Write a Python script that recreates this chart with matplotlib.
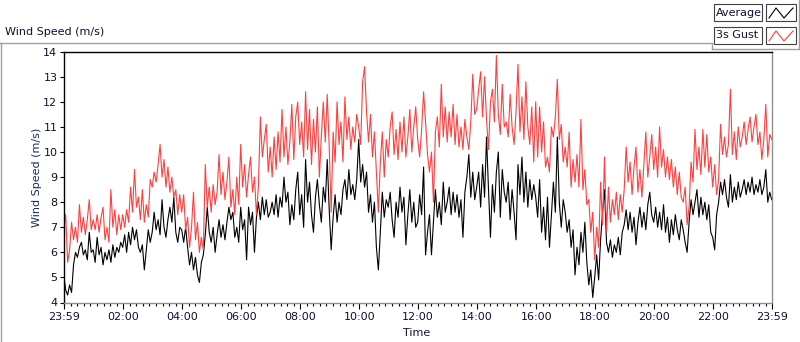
import numpy as np
import matplotlib.pyplot as plt
from matplotlib.lines import Line2D
from matplotlib.patches import Rectangle

# one sample every 4 minutes, 23:59 -> 23:59
minutes = np.arange(0, 1441, 4)

average = [
    5.1, 4.5, 4.3, 4.7, 4.4, 5.5, 6.0, 5.8, 6.2, 6.4, 5.9, 6.1, 5.7, 6.8, 6.0,
    6.1, 5.6, 6.6, 5.9, 6.2, 5.5, 6.0, 5.7, 6.1, 5.6, 6.3, 5.8, 6.2, 6.0, 6.4,
    6.2, 6.7, 6.0, 6.8, 6.3, 7.0, 6.5, 6.9, 6.2, 6.0, 6.3, 5.3, 6.1, 6.9, 6.4,
    6.8, 7.6, 6.9, 7.3, 6.7, 8.1, 7.0, 6.6, 7.3, 7.8, 7.2, 8.2, 6.8, 6.4, 7.0,
    6.9, 6.4, 7.0, 6.2, 5.5, 6.0, 5.3, 5.8, 5.1, 4.8, 5.6, 5.9, 6.7, 7.8, 6.8,
    6.4, 7.0, 6.0, 6.7, 7.3, 6.6, 7.1, 6.5, 7.2, 7.8, 7.3, 7.6, 6.6, 7.0, 6.4,
    7.8, 6.9, 7.3, 5.7, 7.8, 7.1, 7.6, 6.0, 7.4, 8.0, 7.3, 8.2, 7.5, 8.1, 7.4,
    7.6, 8.0, 7.5, 8.3, 7.4, 8.2, 7.8, 9.0, 8.0, 8.4, 7.1, 7.9, 7.3, 8.5, 9.2,
    7.5, 8.3, 7.0, 9.7, 8.0, 8.8, 7.5, 6.8, 8.2, 8.9, 7.9, 7.2, 8.6, 8.0, 9.7,
    7.7, 6.1, 7.4, 8.3, 7.2, 8.0, 7.5, 8.5, 8.9, 8.1, 9.3, 8.3, 8.7, 8.1, 8.9,
    10.5, 8.8, 9.5, 8.6, 9.2, 7.6, 8.3, 7.2, 8.0, 6.2, 5.3, 6.8, 8.4, 7.4, 8.1,
    7.8, 8.4, 7.3, 6.6, 8.0, 7.4, 8.6, 7.6, 8.2, 6.3, 7.5, 8.5, 7.2, 8.0, 7.0,
    7.2, 8.3, 7.5, 9.4, 5.9, 6.8, 7.5, 5.9, 7.2, 8.5, 7.4, 8.0, 7.1, 8.8, 7.6,
    8.0, 8.6, 7.5, 8.4, 7.6, 8.3, 7.4, 8.1, 6.6, 8.4, 9.0, 9.9, 8.2, 9.2, 8.1,
    8.6, 9.2, 7.8, 9.5, 8.2, 10.6, 8.5, 6.6, 8.7, 7.6, 9.2, 10.0, 7.4, 9.3, 8.4,
    8.0, 8.8, 7.3, 8.5, 7.6, 6.5, 9.5, 8.3, 9.8, 8.0, 9.2, 7.8, 8.9, 8.1, 8.7,
    8.2, 7.4, 8.9, 6.8, 7.8, 6.5, 8.2, 6.2, 7.5, 8.8, 7.6, 10.6, 8.0, 7.0, 8.1,
    7.6, 6.8, 7.3, 6.2, 6.9, 5.1, 6.2, 5.5, 6.8, 6.0, 7.2, 5.6, 4.7, 5.3, 4.2,
    5.0, 5.9, 4.9, 6.5, 7.6, 8.5, 6.4, 6.0, 6.5, 5.8, 6.3, 6.0, 6.6, 5.9, 6.8,
    7.1, 7.7, 6.9, 7.6, 6.8, 7.4, 6.3, 7.2, 7.8, 7.0, 7.6, 6.9, 7.9, 8.4, 7.5,
    7.2, 7.8, 7.0, 7.6, 6.9, 7.9, 6.8, 7.4, 6.4, 7.3, 6.7, 7.5, 6.9, 6.5, 7.3,
    6.9, 6.4, 6.0, 7.2, 8.1, 7.5, 8.0, 8.5, 7.4, 8.2, 7.5, 8.0, 7.3, 7.9, 6.8,
    6.6, 6.1, 7.5, 8.0, 8.8, 8.3, 8.9, 8.2, 7.8, 9.1, 8.0, 8.6, 8.1, 8.8, 8.2,
    8.5, 8.9, 8.3, 8.8, 8.4, 9.0, 8.3, 8.7, 8.4, 8.9, 8.3, 8.6, 9.3, 8.0, 8.4, 8.1,
]

gust = [
    6.9, 7.5, 5.6, 6.1, 7.2, 6.5, 7.0, 6.4, 7.9, 6.8, 7.4, 6.7, 7.3, 8.1, 6.9,
    7.3, 6.9, 7.5, 6.8, 7.4, 7.8, 6.5, 7.0, 6.4, 8.5, 7.0, 7.7, 6.7, 7.5, 6.9,
    7.5, 7.0, 7.7, 7.2, 8.6, 7.6, 9.3, 7.8, 8.2, 7.3, 8.5, 7.2, 7.9, 7.4, 8.9,
    8.6, 9.2, 8.8, 9.5, 10.3, 9.0, 9.7, 8.6, 9.4, 8.4, 9.0, 8.2, 8.5, 7.5, 8.3,
    7.6, 8.3, 6.9, 7.4, 6.2, 7.0, 8.4, 6.5, 7.2, 6.0, 6.6, 6.1, 9.5, 7.8, 8.6,
    7.6, 8.7, 7.9, 8.4, 9.9, 8.3, 9.2, 8.1, 8.8, 9.8, 7.8, 8.5, 7.5, 9.0, 7.9,
    10.3, 8.6, 9.5, 8.2, 9.1, 9.8, 8.4, 9.0, 7.5, 8.6, 11.4, 9.8, 10.5, 11.1, 9.2,
    10.2, 9.0, 10.6, 9.3, 10.8, 9.6, 11.7, 9.8, 11.0, 9.5, 10.4, 11.9, 9.7, 11.4, 12.0,
    10.3, 11.2, 9.8, 12.4, 10.1, 11.7, 9.5, 11.3, 10.0, 11.8, 9.0, 10.6, 12.0, 10.4, 12.3,
    10.2, 7.6, 10.8, 9.6, 12.0, 10.3, 11.2, 9.6, 12.2, 10.5, 11.4, 10.1, 11.0, 10.4, 11.5,
    11.0, 10.3, 12.8, 13.4, 11.6, 10.4, 11.5, 9.8, 10.8, 9.2, 7.6, 9.6, 10.8, 9.0, 10.5,
    9.8, 11.0, 11.6, 9.9, 10.9, 9.7, 11.2, 10.0, 11.4, 9.8, 10.6, 11.7, 10.0, 11.0, 11.8,
    10.5, 9.8, 10.9, 12.4, 11.2, 9.9, 9.2, 10.0, 8.0, 10.8, 11.4, 10.2, 12.7, 10.6, 11.8,
    10.4, 11.6, 10.6, 11.9, 10.3, 11.5, 10.2, 11.0, 10.1, 11.3, 10.6, 10.1, 11.2, 13.1, 11.5,
    11.7, 12.5, 13.2, 11.4, 13.0, 11.3, 10.1, 12.0, 12.5, 11.2, 13.85, 11.5, 10.7, 12.7, 11.0,
    11.2, 10.6, 12.3, 11.0, 10.3, 11.6, 13.5, 10.8, 12.2, 10.5, 12.8, 11.0, 10.3, 11.8, 9.6,
    12.0, 9.8, 11.8, 10.0, 11.2, 9.4, 9.8, 9.2, 11.0, 10.6, 11.4, 12.9, 10.5, 11.1, 9.6,
    10.2, 9.4, 10.8, 8.6, 9.7, 8.8, 9.9, 8.6, 11.3, 8.5, 9.3, 7.9, 8.1, 6.8, 7.6,
    5.7, 7.0, 6.2, 8.8, 7.1, 9.8, 6.8, 8.6, 7.2, 8.1, 7.5, 8.4, 7.3, 8.3, 7.6,
    8.5, 10.2, 8.8, 9.6, 8.3, 9.4, 10.2, 8.4, 9.3, 8.2, 9.5, 10.8, 9.0, 9.8, 10.7,
    9.3, 10.2, 9.0, 11.0, 9.4, 10.1, 9.0, 9.8, 8.9, 9.7, 8.6, 9.4, 8.3, 9.2, 8.2,
    8.0, 8.6, 7.1, 7.8, 9.6, 8.8, 10.9, 9.3, 10.2, 9.1, 10.9, 9.4, 10.7, 9.2, 9.8,
    8.6, 9.5, 8.3, 8.9, 11.1, 9.9, 10.6, 9.8, 10.3, 12.5, 9.9, 10.8, 9.7, 11.0, 10.2,
    10.6, 11.2, 10.3, 10.9, 11.4, 10.4, 11.0, 11.5, 10.3, 10.8, 9.7, 10.5, 11.9, 9.8, 10.7, 10.5,
]

tick_minutes = [0, 121, 241, 361, 481, 601, 721, 841, 961, 1081, 1201, 1321, 1440]
tick_labels = ['23:59', '02:00', '04:00', '06:00', '08:00', '10:00', '12:00',
               '14:00', '16:00', '18:00', '20:00', '22:00', '23:59']
y_ticks = list(range(4, 15))

W, H = 800, 342
GRAY = '#a0a0a0'
TXT = '#101030'

def fx(x):
    return x / W

def fy(y):
    return 1 - y / H

plt.rcParams['font.family'] = 'DejaVu Sans'
fig = plt.figure(figsize=(8, 3.42), dpi=100)
ax = fig.add_axes([fx(63.7), fy(302.5), fx(708), 250.8 / H])

ax.plot(minutes, average, color='black', lw=0.8)
ax.plot(minutes, gust, color='#ff4040', lw=0.8)

ax.set_xlim(0, 1440)
ax.set_ylim(4, 14)
ax.set_xticks(tick_minutes)
ax.set_xticklabels(tick_labels)
minor = [1 + k * 120 / 9 for k in range(108) if k % 9 != 0]
ax.set_xticks([1] + minor, minor=True)
ax.set_yticks(y_ticks)

ax.tick_params(axis='both', which='major', labelsize=8, colors='black',
               labelcolor=TXT, direction='out', width=0.8)
ax.tick_params(axis='x', which='major', length=4, pad=3)
ax.tick_params(axis='x', which='minor', length=2.5, width=0.8, color='black')
ax.tick_params(axis='y', which='major', length=3, pad=1.5)

ax.spines['top'].set_color('black')
ax.spines['left'].set_color('black')
ax.spines['bottom'].set_color('#909090')
ax.spines['right'].set_color('#909090')
for s in ax.spines.values():
    s.set_linewidth(1.0)

fig.text(fx(37), fy(177), 'Wind Speed (m/s)', rotation=90, ha='center', va='center',
         fontsize=8, color='#1c2a5a')
fig.text(fx(417), fy(333), 'Time', ha='center', va='center', fontsize=8, color=TXT)
fig.text(fx(5), fy(32), 'Wind Speed (m/s)', ha='left', va='center', fontsize=8, color=TXT)

# outer frame of the chart control
fig.add_artist(Line2D([fx(0), fx(712)], [fy(42.5), fy(42.5)], color=GRAY, lw=1))
fig.add_artist(Line2D([fx(1), fx(1)], [fy(42.5), fy(342)], color=GRAY, lw=1))
fig.add_artist(Line2D([fx(712), fx(712)], [fy(42.5), fy(48.5)], color=GRAY, lw=1))
fig.add_artist(Line2D([fx(712), fx(799)], [fy(48.5), fy(48.5)], color=GRAY, lw=1))
fig.add_artist(Line2D([fx(798.5), fx(798.5)], [fy(0), fy(48.5)], color=GRAY, lw=1))

# plot legend
entries = [('Average', 'black', 4), ('3s Gust', '#ff4040', 27)]
for name, col, top in entries:
    fig.add_artist(Rectangle((fx(714), fy(top + 17)), fx(48), 17 / H,
                             facecolor='white', edgecolor='#404040', lw=0.8))
    fig.add_artist(Rectangle((fx(766), fy(top + 17)), fx(30), 17 / H,
                             facecolor='white', edgecolor='#404040', lw=0.8))
    fig.text(fx(716), fy(top + 8.5), name, ha='left', va='center', fontsize=8, color=TXT)
    fig.add_artist(Line2D([fx(769), fx(776), fx(784), fx(793)],
                          [fy(top + 14), fy(top + 4), fy(top + 14), fy(top + 4)],
                          color=col, lw=0.8))

fig.savefig('out.png', dpi=100)
